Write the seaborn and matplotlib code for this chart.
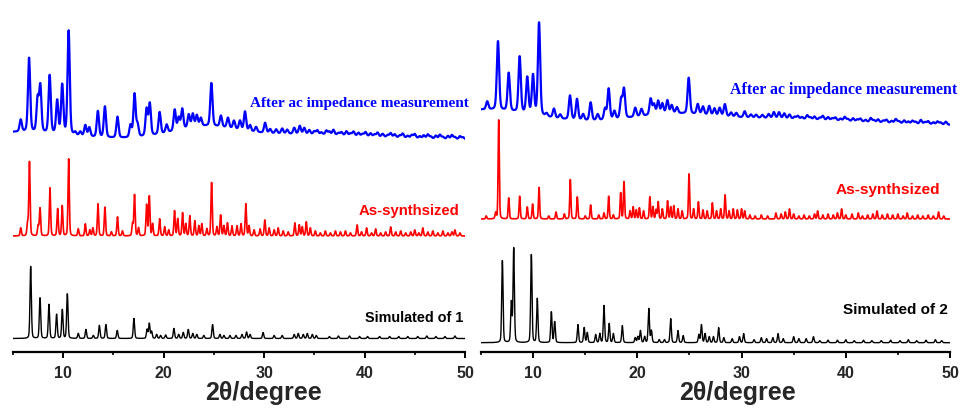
import numpy as np
import pandas as pd
import matplotlib
matplotlib.use("Agg")
import matplotlib.pyplot as plt
from matplotlib.ticker import MultipleLocator
import seaborn as sns

# ---------------------------------------------------------------------------
# Powder XRD patterns: peak positions (2theta, degree) and intensities (a.u.)
# Each pattern sits on its own vertical offset inside the panel.
# ---------------------------------------------------------------------------

# ----- compound 1 -----
sim1_offset = 13.5
sim1_pos = [6.76, 7.69, 8.58, 9.34, 9.91, 10.41, 11.5, 12.26, 13.0, 13.6, 14.25, 15.38,
            17.04, 18.35, 18.57, 18.8, 19.3, 19.7, 20.2, 21.02, 21.5, 21.95, 22.45, 22.9,
            23.3, 24.0, 24.87, 25.6, 26.0, 26.6, 27.2, 27.8, 28.25, 28.6, 29.9, 31.0, 31.8,
            33.0, 33.4, 33.9, 34.3, 34.8, 35.2, 36.5, 37.4, 38.5, 39.5, 40.3, 41.5, 42.5,
            43.4, 44.3, 45.3, 46.2, 47.1, 48.0, 49.0]
sim1_int = [72, 41, 34, 24, 29, 45, 5, 9, 3, 13, 14, 8,
            20, 9, 15, 7, 4, 3, 3.5, 10, 4, 6, 9, 5,
            4, 3, 14, 4, 3, 3, 3, 4, 6.5, 4, 6, 3, 3,
            4, 5, 4, 5, 4, 3, 2, 2.5, 2.5, 2, 2, 2, 2,
            2, 2, 2, 2.5, 2, 2, 2.5]

syn1_offset = 116
syn1_pos = [5.77, 6.45, 6.64, 7.5, 7.69, 8.68, 9.44, 9.9, 10.54, 11.5, 12.2, 12.65, 12.95,
            13.46, 14.15, 14.8, 15.4, 15.9, 16.9, 17.1, 17.5, 18.3, 18.57, 18.9, 19.6,
            20.1, 20.5, 21.08, 21.4, 21.88, 22.2, 22.6, 23.1, 23.5, 23.8, 24.3, 24.77,
            25.3, 25.67, 26.0, 26.35, 26.8, 27.3, 27.7, 28.18, 28.5, 29.0, 29.6, 30.07,
            30.5, 31.0, 31.4, 31.9, 32.4, 33.06, 33.5, 33.8, 34.2, 34.6, 35.1, 35.6, 36.1,
            36.6, 37.1, 37.6, 38.1, 38.6, 39.26, 39.7, 40.2, 40.7, 41.1, 41.6, 42.1, 42.6,
            43.1, 43.6, 44.1, 44.6, 45.0, 45.4, 45.8, 46.3, 46.8, 47.3, 47.8, 48.3, 48.7,
            49.0, 49.5]
syn1_int = [8, 12, 74, 10, 28, 48, 27, 30, 77, 7, 12, 6, 8,
            32, 29, 4, 19, 5, 12, 41, 8, 31, 40, 12, 17,
            9, 6, 25, 17, 23, 12, 20, 15, 10, 12, 7, 54,
            9, 21, 10, 13, 10, 10, 12, 32, 10, 6, 7, 16,
            8, 6, 8, 5, 4, 13, 11, 9, 14, 8, 5, 3, 5,
            3, 5, 4, 5, 3, 11, 4, 8, 3, 7, 3, 4, 9,
            4, 5, 3, 4, 6, 3, 8, 4, 5, 3, 5, 3, 4,
            6, 3]

imp1_offset = 212
imp1_bg_pos = [5.0, 24.0, 32.0]
imp1_bg_int = [8, 10, 6]
imp1_bg_fwhm = [12, 7, 20]
imp1_pos = [5.77, 6.6, 7.45, 7.72, 8.65, 9.4, 9.9, 10.54, 11.2, 11.7, 12.2, 12.6, 13.45,
            14.15, 15.4, 16.7, 17.1, 17.4, 18.3, 18.62, 19.6, 20.3, 21.1, 21.5, 21.85,
            22.5, 22.9, 23.3, 23.7, 24.75, 25.7, 26.4, 27.0, 27.6, 28.1, 28.6, 29.2, 30.1,
            30.6, 31.2, 31.8, 32.3, 33.0, 33.55, 34.0, 34.5,
            35.0, 35.3, 35.7, 36.2, 36.5, 36.9, 37.4, 37.7, 38.2, 38.6, 38.9, 39.4, 39.8,
            40.1, 40.6, 41.0, 41.3, 41.8, 42.3, 42.6, 43.0, 43.5, 43.8, 44.3, 44.7, 45.0,
            45.5, 45.9, 46.3, 46.6, 47.1, 47.5, 47.8, 48.3, 48.7, 49.0, 49.5, 49.8]
imp1_int = [12, 74, 33, 46, 58, 33, 49, 104, 3, 4, 11, 9, 26,
            31, 21, 12, 43, 12, 27, 32, 22, 8, 21, 12, 20,
            13, 13, 11, 8, 43, 11, 10, 8, 9, 19, 6, 5, 10,
            4, 4, 5, 4, 6, 8, 6, 4,
            3, 4, 2, 4, 3, 5, 2, 3, 4, 2, 4, 3, 2,
            4, 3, 2, 4, 3, 2, 4, 3, 2, 4, 2, 3, 4,
            2, 3, 4, 2, 3, 4, 2, 3, 4, 2, 3, 2]

# ----- compound 2 -----
sim2_offset = 9.3
sim2_pos = [7.05, 7.91, 8.14, 9.83, 10.4, 11.75, 12.07, 14.3, 14.9, 15.2, 16.0, 16.4, 16.8,
            17.3, 17.7, 18.56, 19.8, 20.05, 20.3, 20.7, 21.1, 21.35, 22.1, 22.6, 23.2,
            23.9, 24.4, 25.9, 26.15, 26.5, 26.9, 27.3, 27.8, 28.3, 29.1, 29.8, 30.2, 31.2,
            31.9, 32.4, 33.0, 33.5, 34.0, 35.0, 35.5, 36.2, 36.9, 37.5, 38.3, 39.2, 40.0,
            40.8, 41.7, 42.5, 43.4, 44.3, 45.2, 46.0, 46.8, 47.7, 48.6, 49.2]
sim2_int = [83, 40, 94, 89, 44, 31, 21, 18, 15, 10, 8, 9, 37,
            19, 9, 17, 5, 6, 12, 6, 34, 12, 3, 3, 24,
            12, 7, 8, 18, 9, 6, 6, 15, 5, 4, 6, 9, 3,
            5, 4, 5, 9, 4, 6, 4, 4, 6, 2, 2.5, 2.5, 3,
            2, 2.5, 2, 2, 2.5, 2, 3, 2, 2.5, 3, 2]

syn2_offset = 133
syn2_pos = [5.5, 6.4, 6.7, 7.66, 8.71, 9.44, 9.95, 10.57, 11.5, 12.2, 13.0, 13.57, 14.24,
            15.0, 15.52, 16.3, 16.8, 17.25, 17.7, 18.4, 18.72, 19.3, 19.6, 19.9, 20.2,
            20.6, 21.2, 21.5, 21.8, 22.0, 22.4, 22.9, 23.2, 23.5, 23.9, 24.3, 24.96, 25.4,
            25.86, 26.3, 26.7, 27.2, 27.6, 28.0, 28.42, 28.8, 29.2, 29.6, 30.0, 30.3, 30.8,
            31.3, 31.9, 32.5, 33.3, 33.8, 34.2, 34.6, 35.0, 35.5, 36.0, 36.5, 37.0, 37.3,
            37.8, 38.3, 38.8, 39.2, 39.6, 40.0, 40.6, 41.2, 41.6, 42.1, 42.6, 43.0, 43.5,
            44.0, 44.5, 45.0, 45.5, 45.9, 46.4, 46.9, 47.4, 47.9, 48.4, 48.9, 49.4]
syn2_int = [3, 6, 99, 21, 23, 12, 15, 32, 3, 7, 5, 40, 22,
            3, 14, 4, 6, 23, 4, 26, 37, 8, 12, 9, 11,
            8, 22, 12, 9, 17, 10, 18, 12, 13, 10, 8, 45, 10,
            17, 9, 8, 16, 8, 10, 24, 8, 10, 9, 10, 8, 4,
            3, 4, 3, 6, 5, 7, 10, 5, 3, 4, 3, 5, 8,
            4, 5, 4, 6, 10, 4, 5, 6, 3, 4, 5, 8, 4,
            5, 4, 5, 3, 6, 3, 4, 3, 4, 3, 7, 3]

imp2_offset = 226
imp2_bg_pos = [5.0, 23.0, 30.0]
imp2_bg_int = [16, 6, 8]
imp2_bg_fwhm = [12, 8, 24]
imp2_pos = [5.6, 6.63, 7.66, 8.71, 9.44, 9.99, 10.57, 11.3, 12.0, 12.6, 13.54, 14.21, 14.8,
            15.52, 16.2, 16.9, 17.25, 17.8, 18.45, 18.72, 19.8, 20.4, 21.28, 21.6, 22.0,
            22.4, 22.88, 23.3, 23.8, 24.93, 25.8, 26.3, 26.9, 27.4, 27.9, 28.4, 29.0, 29.5,
            30.3, 30.9, 31.4, 32.0, 32.6, 33.1, 33.6, 34.1, 34.6,
            35.1, 35.4, 35.8, 36.3, 36.6, 37.0, 37.5, 37.8, 38.3, 38.7, 39.0, 39.5, 39.9,
            40.2, 40.7, 41.1, 41.4, 41.9, 42.4, 42.7, 43.1, 43.6, 43.9, 44.4, 44.8, 45.1,
            45.6, 46.0, 46.4, 46.7, 47.2, 47.6, 47.9, 48.4, 48.8, 49.1, 49.6]
imp2_int = [8, 69, 38, 56, 36, 39, 93, 3, 9, 4, 24, 21, 6,
            18, 6, 11, 31, 8, 19, 29, 9, 7, 16, 10, 13,
            10, 13, 8, 6, 36, 10, 8, 9, 7, 8, 12, 4, 4,
            6, 3, 3, 3, 4, 6, 6, 5, 4,
            2, 3, 2, 4, 2, 3, 2, 4, 3, 2, 3, 2, 4,
            2, 3, 2, 3, 2, 4, 2, 3, 2, 3, 2, 4, 2,
            3, 2, 3, 2, 4, 2, 3, 2, 3, 2, 3]

labels1 = ["Simulated of 1", "As-synthsized", "After ac impedance measurement"]
labels2 = ["Simulated of 2", "As-synthsized", "After ac impedance measurement"]
colors = {"sim": "#000000", "syn": "#ff0000", "imp": "#0000ff"}

two_theta = np.arange(5.0, 50.0001, 0.02)


def pattern(pos, inten, fwhm, eta, offset, bg_pos=(), bg_int=(), bg_fwhm=()):
    """Sum of pseudo-Voigt reflections on top of a smooth background."""
    y = np.full_like(two_theta, float(offset))
    for p, h in zip(pos, inten):
        d = (two_theta - p) / (fwhm / 2.0)
        y += h * (eta / (1.0 + d ** 2) + (1.0 - eta) * np.exp(-np.log(2) * d ** 2))
    for p, h, w in zip(bg_pos, bg_int, bg_fwhm):
        s = w / 2.3548
        y += h * np.exp(-0.5 * ((two_theta - p) / s) ** 2)
    return y


def frame(kind, y):
    return pd.DataFrame({"angle": two_theta, "intensity": y, "trace": kind})


panel1 = pd.concat([
    frame("sim", pattern(sim1_pos, sim1_int, 0.16, 0.25, sim1_offset)),
    frame("syn", pattern(syn1_pos, syn1_int, 0.15, 0.25, syn1_offset)),
    frame("imp", pattern(imp1_pos, imp1_int, 0.26, 0.3, imp1_offset,
                         imp1_bg_pos, imp1_bg_int, imp1_bg_fwhm)),
])
panel2 = pd.concat([
    frame("sim", pattern(sim2_pos, sim2_int, 0.15, 0.25, sim2_offset)),
    frame("syn", pattern(syn2_pos, syn2_int, 0.13, 0.25, syn2_offset)),
    frame("imp", pattern(imp2_pos, imp2_int, 0.26, 0.3, imp2_offset,
                         imp2_bg_pos, imp2_bg_int, imp2_bg_fwhm)),
])

sns.set_theme(style="white")
plt.rcParams["font.family"] = ["Liberation Sans", "DejaVu Sans"]
plt.rcParams["font.weight"] = "bold"
plt.rcParams["mathtext.default"] = "regular"

W, H = 968, 409
fig = plt.figure(figsize=(W / 100, H / 100), dpi=100)
fig.patch.set_facecolor("white")
ax1 = fig.add_axes([13 / W, 57 / H, 452 / W, 347 / H])
ax2 = fig.add_axes([481 / W, 57 / H, 469 / W, 347 / H])

widths = {"sim": 1.0, "syn": 1.2, "imp": 1.6}

for ax, data in ((ax1, panel1), (ax2, panel2)):
    for kind in ("sim", "syn", "imp"):
        sns.lineplot(data=data[data.trace == kind], x="angle", y="intensity",
                     color=colors[kind], linewidth=widths[kind], estimator=None,
                     sort=False, ax=ax, legend=False)
    ax.set_xlim(5, 50)
    ax.set_ylim(0, 347)
    ax.set_facecolor("none")
    for side in ("left", "right", "top"):
        ax.spines[side].set_visible(False)
    ax.spines["bottom"].set_linewidth(1.6)
    ax.spines["bottom"].set_color("black")
    ax.set_yticks([])
    ax.set_ylabel("")
    ax.set_xticks([10, 20, 30, 40, 50])
    ax.xaxis.set_minor_locator(MultipleLocator(5))
    ax.tick_params(axis="x", which="major", direction="out", length=4, width=1.4,
                   labelsize=11.5, pad=6, bottom=True, color="black")
    ax.tick_params(axis="x", which="minor", direction="out", length=2.5, width=1.2,
                   bottom=True, color="black")
    ax.set_xlabel("2\u03b8/degree", fontsize=18, fontweight="bold")

ax1.xaxis.set_label_coords(0.555, -0.118)
ax2.xaxis.set_label_coords(0.546, -0.118)
for ax in (ax1, ax2):
    ax.xaxis.label.set_verticalalignment("center")

serif = ["Liberation Serif", "DejaVu Serif"]

# trace captions
ax1.text(28.6, 249, labels1[2], color=colors["imp"], fontsize=11, fontweight="bold",
         family=serif, va="center", ha="left", clip_on=False)
ax1.text(39.4, 141, labels1[1], color=colors["syn"], fontsize=10.7, fontweight="bold",
         va="center", ha="left")
ax1.text(40.0, 34, labels1[0], color=colors["sim"], fontsize=10.4, fontweight="bold",
         va="center", ha="left", clip_on=False)

ax2.text(28.9, 262, labels2[2], color=colors["imp"], fontsize=11.4, fontweight="bold",
         family=serif, va="center", ha="left", clip_on=False)
ax2.text(39.0, 162, labels2[1], color=colors["syn"], fontsize=11.1, fontweight="bold",
         va="center", ha="left", clip_on=False)
ax2.text(39.7, 42, labels2[0], color=colors["sim"], fontsize=11.0, fontweight="bold",
         va="center", ha="left", clip_on=False)

fig.savefig("out.png", dpi=100, facecolor="white")
